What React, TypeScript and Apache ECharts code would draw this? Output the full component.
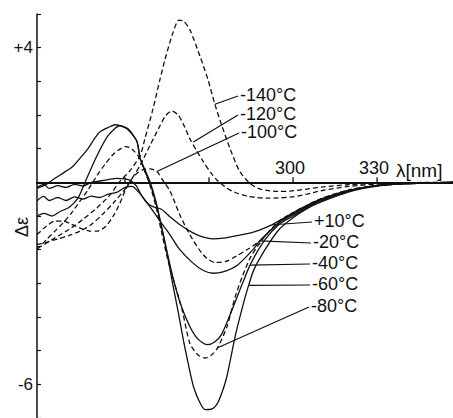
import React, { useEffect, useRef } from "react";
import * as echarts from "echarts";

// ---- data: [wavelength nm, delta epsilon] ----
const curvePlus10: number[][] = [
  [208.6, -0.15], [211, -0.06], [213, -0.18], [216, -0.1], [219, -0.15], [222, -0.06], [225, -0.11],
  [228, 0.0], [231, 0.04], [234, 0.08], [237, 0.12], [240, 0.1], [242, 0.05], [244, -0.1],
  [246, -0.4], [248, -0.62], [250, -0.72], [253, -0.8], [256, -1.02], [259.6, -1.26], [264.3, -1.5],
  [268, -1.63], [271.4, -1.68], [275, -1.66], [280, -1.58], [285, -1.5], [288, -1.42], [292, -1.28],
  [296, -1.1], [300, -0.92], [305, -0.7], [310, -0.5], [320, -0.24], [330, -0.1], [340, -0.04], [357.1, 0],
];
const curveMinus20: number[][] = [
  [208.6, -0.55], [211, -0.42], [213, -0.54], [216, -0.45], [219, -0.54], [222, -0.43], [225, -0.5],
  [228, -0.41], [231, -0.45], [234, -0.35], [237, -0.3], [240, -0.15], [242.5, -0.12], [245, -0.3],
  [248, -0.62], [252.5, -1.15], [256, -1.55], [259.6, -2.0], [264.3, -2.4], [268, -2.62], [271.4, -2.7],
  [275, -2.66], [280, -2.47], [285.7, -2.0], [288, -1.75], [291.8, -1.44], [296, -1.15], [300, -0.95],
  [305, -0.72], [310, -0.52], [320, -0.25], [330, -0.1], [340, -0.04], [357.1, 0],
];
const curveMinus40: number[][] = [
  [208.6, -1.0], [211, -0.92], [214, -1.0], [217, -0.86], [220, -0.75], [223.2, -0.47], [226, 0.05],
  [230, 0.79], [233.9, 1.38], [238.2, 1.68], [241.1, 1.59], [244.3, 1.21], [245.4, 0.71], [247, 0.35],
  [249, -0.05], [251, -0.6], [253, -1.3], [255, -2.05], [257.1, -2.82], [260, -3.65], [263.2, -4.29],
  [266, -4.65], [269.3, -4.82], [272, -4.74], [274.6, -4.5], [278.2, -3.79], [281.8, -3.03], [285, -2.4],
  [290, -1.7], [295, -1.25], [300, -1.0], [305, -0.75], [310, -0.55], [320, -0.26], [330, -0.1],
  [340, -0.04], [357.1, 0],
];
const curveMinus60: number[][] = [
  [208.6, -0.18], [211, -0.1], [213, 0.0], [215, 0.12], [218, 0.28], [221.4, 0.47], [224, 0.72],
  [226.8, 1.0], [229, 1.28], [231.1, 1.5], [234.6, 1.65], [236.4, 1.71], [238.5, 1.68], [240.7, 1.59],
  [243, 1.38], [244.3, 1.21], [245.4, 0.71], [247, 0.4], [249, 0.0], [251, -0.55], [253, -1.3],
  [255, -2.1], [257, -3.0], [259, -3.85], [261, -4.75], [263, -5.55], [264.5, -6.08], [266.5, -6.5],
  [268.6, -6.75], [270.8, -6.74], [272.9, -6.58], [274.6, -6.25], [276.4, -5.76], [279.3, -4.59],
  [281.5, -3.85], [283.6, -3.21], [286, -2.6], [290, -2.0], [295, -1.4], [300, -1.05], [305, -0.78],
  [310, -0.58], [320, -0.28], [330, -0.11], [340, -0.04], [357.1, 0],
];
const curveMinus80: number[][] = [
  [208.6, -2.0], [212, -1.7], [215, -1.45], [218, -1.2], [221, -0.9], [224, -0.55], [227, -0.2],
  [230, 0.2], [233, 0.55], [236, 0.85], [238.5, 1.0], [240, 1.06], [241.5, 1.04], [243, 0.95],
  [245.4, 0.7], [247, 0.35], [249, -0.1], [251, -0.7], [253, -1.45], [255, -2.2], [258, -3.1],
  [260.4, -3.79], [263.2, -4.79], [266, -5.12], [268.6, -5.22], [271, -5.12], [272.9, -4.94],
  [276.4, -4.29], [279.3, -3.41], [281.8, -2.82], [285, -2.2], [290, -1.6], [295, -1.15], [300, -0.9],
  [305, -0.68], [310, -0.5], [320, -0.24], [330, -0.1], [340, -0.04], [357.1, 0],
];
const curveMinus100: number[][] = [
  [208.6, -1.55], [212, -1.3], [215, -1.15], [218, -1.15], [221, -1.25], [224, -1.36], [227, -1.44],
  [230, -1.45], [233, -1.32], [236, -0.98], [238.2, -0.62], [240, -0.26], [242, 0.05], [244, 0.25],
  [246.5, 0.38], [249, 0.4], [251.4, 0.32], [253.6, 0.05], [256.1, -0.26], [259.6, -0.97],
  [263.2, -1.56], [267.9, -2.15], [272.1, -2.38], [276, -2.35], [280, -2.18], [284, -1.98],
  [288.2, -1.74], [292, -1.42], [296, -1.12], [300, -0.9], [305, -0.68], [310, -0.48], [320, -0.22],
  [330, -0.09], [340, -0.03], [357.1, 0],
];
const curveMinus120: number[][] = [
  [208.6, -1.85], [212, -1.78], [216, -1.68], [220, -1.58], [224, -1.45], [228, -1.25], [232, -0.95],
  [236, -0.6], [240, -0.2], [243, 0.18], [245.4, 0.5], [248.9, 1.09], [252.5, 1.68], [254.5, 1.98],
  [256.8, 2.12], [259, 2.0], [261, 1.7], [263.2, 1.29], [265.5, 0.95], [267.9, 0.62], [270.5, 0.3],
  [272.9, 0.06], [275.5, -0.12], [278.2, -0.26], [283.6, -0.41], [290.7, -0.47], [299, -0.44],
  [305, -0.35], [310, -0.25], [320, -0.12], [330, -0.05], [340, -0.02], [357.1, 0],
];
const curveMinus140: number[][] = [
  [208.6, -1.92], [210, -1.9], [215, -1.65], [220, -1.4], [225, -1.1], [230, -0.76], [234.6, -0.38],
  [238.2, 0.03], [241.8, 0.35], [245.4, 0.79], [247.1, 1.29], [250, 2.18], [252.5, 3.06], [254.3, 3.65],
  [257.1, 4.44], [259.3, 4.82], [261, 4.78], [263.2, 4.53], [266.8, 3.74], [269.6, 3.06], [272.1, 2.32],
  [274.6, 1.68], [277.5, 1.0], [281, 0.32], [284.6, -0.03], [287.5, -0.18], [290.7, -0.24], [295, -0.27],
  [299, -0.26], [305, -0.2], [310, -0.14], [320, -0.07], [330, -0.03], [340, -0.01], [357.1, 0],
];

const seriesNames = ["+10°C", "-20°C", "-40°C", "-60°C", "-80°C", "-100°C", "-120°C", "-140°C"];
const seriesData = [
  curvePlus10, curveMinus20, curveMinus40, curveMinus60,
  curveMinus80, curveMinus100, curveMinus120, curveMinus140,
];
const seriesDashed = [false, false, false, false, true, true, true, true];

// points on the curves where the label leader lines end [λ, Δε]
const leaderAnchors: number[][] = [
  [292.9, -1.26], [288.2, -1.74], [284.6, -2.46], [284.3, -3.06],
  [272.9, -4.92], [251.4, 0.32], [264.4, 1.2], [272.1, 2.32],
];

const xTickValues = [240, 270, 300, 330];
const xTickLabels = [300, 330];
const yTickLabels: Record<string, string> = { "4": "+4", "-6": "-6" };

const FONT = "Liberation Sans";

export default function App() {
  const ref = useRef<HTMLDivElement>(null);
  useEffect(() => {
    if (!ref.current) return;
    const chart = echarts.init(ref.current, undefined, { renderer: "svg" });
    const option: any = {
      animation: false,
      backgroundColor: "#fff",
      grid: { left: 37, right: 0, top: 14, bottom: -4, containLabel: false },
      xAxis: {
        type: "value",
        min: 208.6,
        max: 357.1,
        axisLine: { show: true, onZero: true, lineStyle: { color: "#111", width: 2 } },
        axisTick: { show: false },
        axisLabel: { show: false },
        splitLine: { show: false },
      },
      yAxis: {
        type: "value",
        min: -7,
        max: 5,
        interval: 1,
        axisLine: { show: true, lineStyle: { color: "#111", width: 1.5 } },
        axisTick: { show: true, inside: true, length: 4, lineStyle: { color: "#111", width: 1.2 } },
        axisLabel: {
          margin: 4, fontSize: 17, fontFamily: FONT, color: "#111",
          formatter: (v: number) => yTickLabels[String(v)] ?? "",
        },
        splitLine: { show: false },
      },
      series: seriesData.map((d, i) => ({
        name: seriesNames[i],
        type: "line",
        data: d,
        showSymbol: false,
        smooth: 0.25,
        silent: true,
        z: 3,
        lineStyle: {
          color: "#111",
          width: 1.3,
          type: seriesDashed[i] ? [5, 3] : "solid",
        },
      })),
    };
    chart.setOption(option);

    const graphics: any[] = [];
    // x-axis ticks and labels on the zero line
    xTickValues.forEach((v) => {
      const p = chart.convertToPixel({ gridIndex: 0 }, [v, 0]) as number[];
      graphics.push({
        type: "line",
        shape: { x1: p[0], y1: p[1], x2: p[0], y2: p[1] - 5 },
        style: { stroke: "#111", lineWidth: 1.3 },
        z: 10,
      });
    });
    xTickLabels.forEach((v) => {
      const p = chart.convertToPixel({ gridIndex: 0 }, [v, 0]) as number[];
      graphics.push({
        type: "text",
        x: p[0] - 3,
        y: p[1] - 14,
        style: { text: String(v), fontSize: 18, fontFamily: FONT, fill: "#111", align: "center", verticalAlign: "middle" },
        z: 10,
      });
    });

    // label positions (text left x, centre y) in pixels
    const labelPos = [
      [314, 221], [313, 242], [312, 263], [312, 284], [311, 306],
      [241, 132], [240, 114], [240, 95],
    ];
    seriesNames.forEach((name, i) => {
      const p = chart.convertToPixel({ gridIndex: 0 }, leaderAnchors[i]) as number[];
      const [lx, ly] = labelPos[i];
      graphics.push({
        type: "line",
        shape: { x1: p[0], y1: p[1], x2: lx - 2, y2: ly + 1 },
        style: { stroke: "#111", lineWidth: 1.2 },
        z: 10,
      });
      graphics.push({
        type: "text",
        x: lx,
        y: ly,
        style: { text: name, fontSize: 18, fontFamily: FONT, fill: "#111", align: "left", verticalAlign: "middle" },
        z: 10,
      });
    });
    graphics.push({
      type: "text",
      x: 396,
      y: 170,
      style: { text: "λ[nm]", fontSize: 19, fontFamily: FONT, fill: "#111", align: "left", verticalAlign: "middle" },
      z: 10,
    });
    graphics.push({
      type: "text",
      x: 22,
      y: 227,
      rotation: Math.PI / 2,
      style: { text: "Δε", fontSize: 18, fontFamily: FONT, fill: "#111", align: "center", verticalAlign: "middle" },
      z: 10,
    });
    chart.setOption({ graphic: graphics });

    return () => chart.dispose();
  }, []);
  return (
    <div
      ref={ref}
      style={{ position: "fixed", left: 0, top: 0, width: 453, height: 418, background: "#fff" }}
    />
  );
}
